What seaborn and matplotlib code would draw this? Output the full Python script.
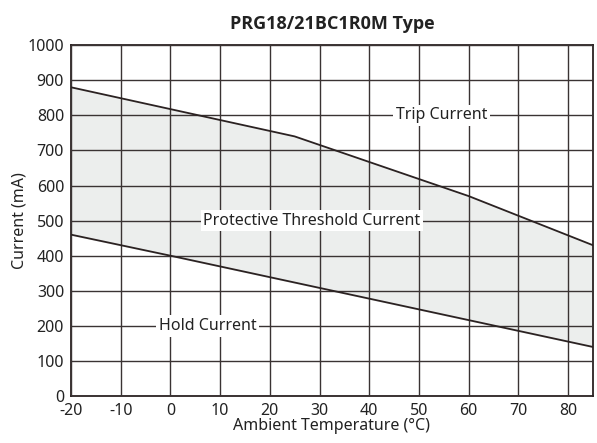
import numpy as np
import pandas as pd
import seaborn as sns
import matplotlib.pyplot as plt

# ===============================
# Data
# ===============================
trip_temp = [-20, 25, 60, 85]
trip_current = [880, 740, 570, 430]

hold_temp = [-20, 0, 85]
hold_current = [460, 400, 140]

x_ticks = list(range(-20, 90, 10))
y_ticks = list(range(0, 1100, 100))

# ===============================
# Style
# ===============================
sns.set_style("white")
plt.rcParams['font.family'] = ['Noto Sans', 'DejaVu Sans']
plt.rcParams['axes.unicode_minus'] = False

dark = "#2b2222"
txt = "#222222"

fig = plt.figure(figsize=(5.97, 4.43), dpi=100)
ax = fig.add_axes([0.119, 0.106, 0.874, 0.792])

# shaded region between trip and hold curves
grid_x = np.union1d(trip_temp, hold_temp)
upper = np.interp(grid_x, trip_temp, trip_current)
lower = np.interp(grid_x, hold_temp, hold_current)
ax.fill_between(grid_x, lower, upper, color="#eceeed", zorder=1)

trip = pd.DataFrame({"temp": trip_temp, "current": trip_current})
hold = pd.DataFrame({"temp": hold_temp, "current": hold_current})
sns.lineplot(data=trip, x="temp", y="current", color=dark, lw=1.3, ax=ax, zorder=3)
sns.lineplot(data=hold, x="temp", y="current", color=dark, lw=1.3, ax=ax, zorder=3)

ax.set_xlim(-20, 85)
ax.set_ylim(0, 1000)
ax.set_xticks(x_ticks)
ax.set_yticks(y_ticks)
ax.grid(True, color="#3a3333", lw=1.0, zorder=2)
ax.set_axisbelow(False)
for s in ax.spines.values():
    s.set_color(dark)
    s.set_linewidth(1.3)
ax.tick_params(axis="both", labelsize=11.5, colors=txt, length=0)
ax.tick_params(axis="x", pad=5)
ax.tick_params(axis="y", pad=5)

ax.set_xlabel("Ambient Temperature (°C)", fontsize=11.5, color=txt, labelpad=-1)
ax.set_ylabel("Current (mA)", fontsize=11.5, color=txt, labelpad=0)
ax.set_title("PRG18/21BC1R0M Type", fontsize=13, fontweight="bold", color=txt,
             family=["Open Sans", "DejaVu Sans"], pad=12)

box = dict(facecolor="white", edgecolor="none", pad=2)
ax.text(54.5, 800, "Trip Current", ha="center", va="center", fontsize=11.5, color=txt, bbox=box, zorder=5)
ax.text(28.5, 500, "Protective Threshold Current", ha="center", va="center", fontsize=11.5, color=txt, bbox=box, zorder=5)
ax.text(7.5, 200, "Hold Current", ha="center", va="center", fontsize=11.5, color=txt, bbox=box, zorder=5)

plt.savefig("out.png", dpi=100)
